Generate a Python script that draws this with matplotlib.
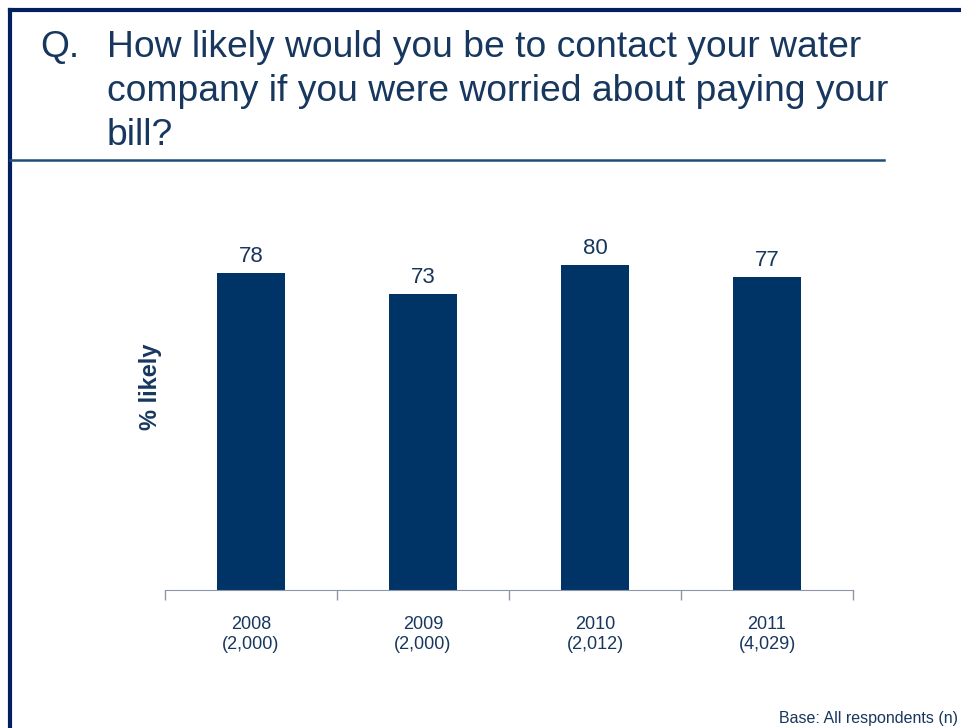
import matplotlib.pyplot as plt
from matplotlib.lines import Line2D

plt.rcParams['font.family'] = ['Liberation Sans', 'DejaVu Sans']

years = ['2008', '2009', '2010', '2011']
bases = ['(2,000)', '(2,000)', '(2,012)', '(4,029)']
likely = [78, 73, 80, 77]
question = ['How likely would you be to contact your water',
            'company if you were worried about paying your',
            'bill?']

navy = '#003366'
text_col = '#17375e'
frame_col = '#002060'

W, H = 961, 728
fig = plt.figure(figsize=(W / 100, H / 100), dpi=100)

# frame lines along top and left, plus rule under the question
fig.add_artist(Line2D([9.5 / W, 1], [1 - 9.5 / H] * 2, color=frame_col, lw=3))
fig.add_artist(Line2D([9.5 / W] * 2, [0, 1 - 9.5 / H], color=frame_col, lw=3))
fig.add_artist(Line2D([10 / W, 884 / W], [1 - 160 / H] * 2, color='#1f4e79', lw=1.8))

fig.text(40 / W, 1 - 57 / H, 'Q.', fontsize=26.8, color=text_col, va='baseline')
for i, line in enumerate(question):
    fig.text(107 / W, 1 - (57 + 44 * i) / H, line, fontsize=26.8,
             color=text_col, va='baseline')

ax = fig.add_axes([165 / W, 138 / H, 688 / W, 406 / H])
x = range(len(years))
bars = ax.bar(x, likely, width=0.4, color=navy)
for b, v in zip(bars, likely):
    ax.text(b.get_x() + b.get_width() / 2, v + 1.5, str(v), ha='center',
            va='bottom', fontsize=16, color=text_col)

ax.set_xlim(-0.5, len(years) - 0.5)
ax.set_ylim(0, 100)
ax.set_yticks([])
for s in ['top', 'right', 'left']:
    ax.spines[s].set_visible(False)
ax.spines['bottom'].set_color('#8c96a8')
ax.set_xticks([i - 0.5 for i in range(len(years) + 1)])
ax.set_xticklabels([])
ax.tick_params(axis='x', length=7, color='#8c96a8', width=1)
ax.set_xticks(list(x), [f'{y}\n{b}' for y, b in zip(years, bases)], minor=True)
ax.tick_params(axis='x', which='minor', length=0, pad=19, labelsize=13,
               labelcolor=text_col)
for lbl in ax.get_xticklabels(minor=True):
    lbl.set_linespacing(1.2)

fig.text(150 / W, 1 - 387 / H, '% likely', rotation=90, fontsize=17,
         fontweight='bold', color=text_col, ha='center', va='center')

fig.text(958 / W, 1 - 723 / H, 'Base: All respondents (n)', fontsize=11.5,
         color=text_col, ha='right', va='baseline')

fig.savefig('out.png', dpi=100)
